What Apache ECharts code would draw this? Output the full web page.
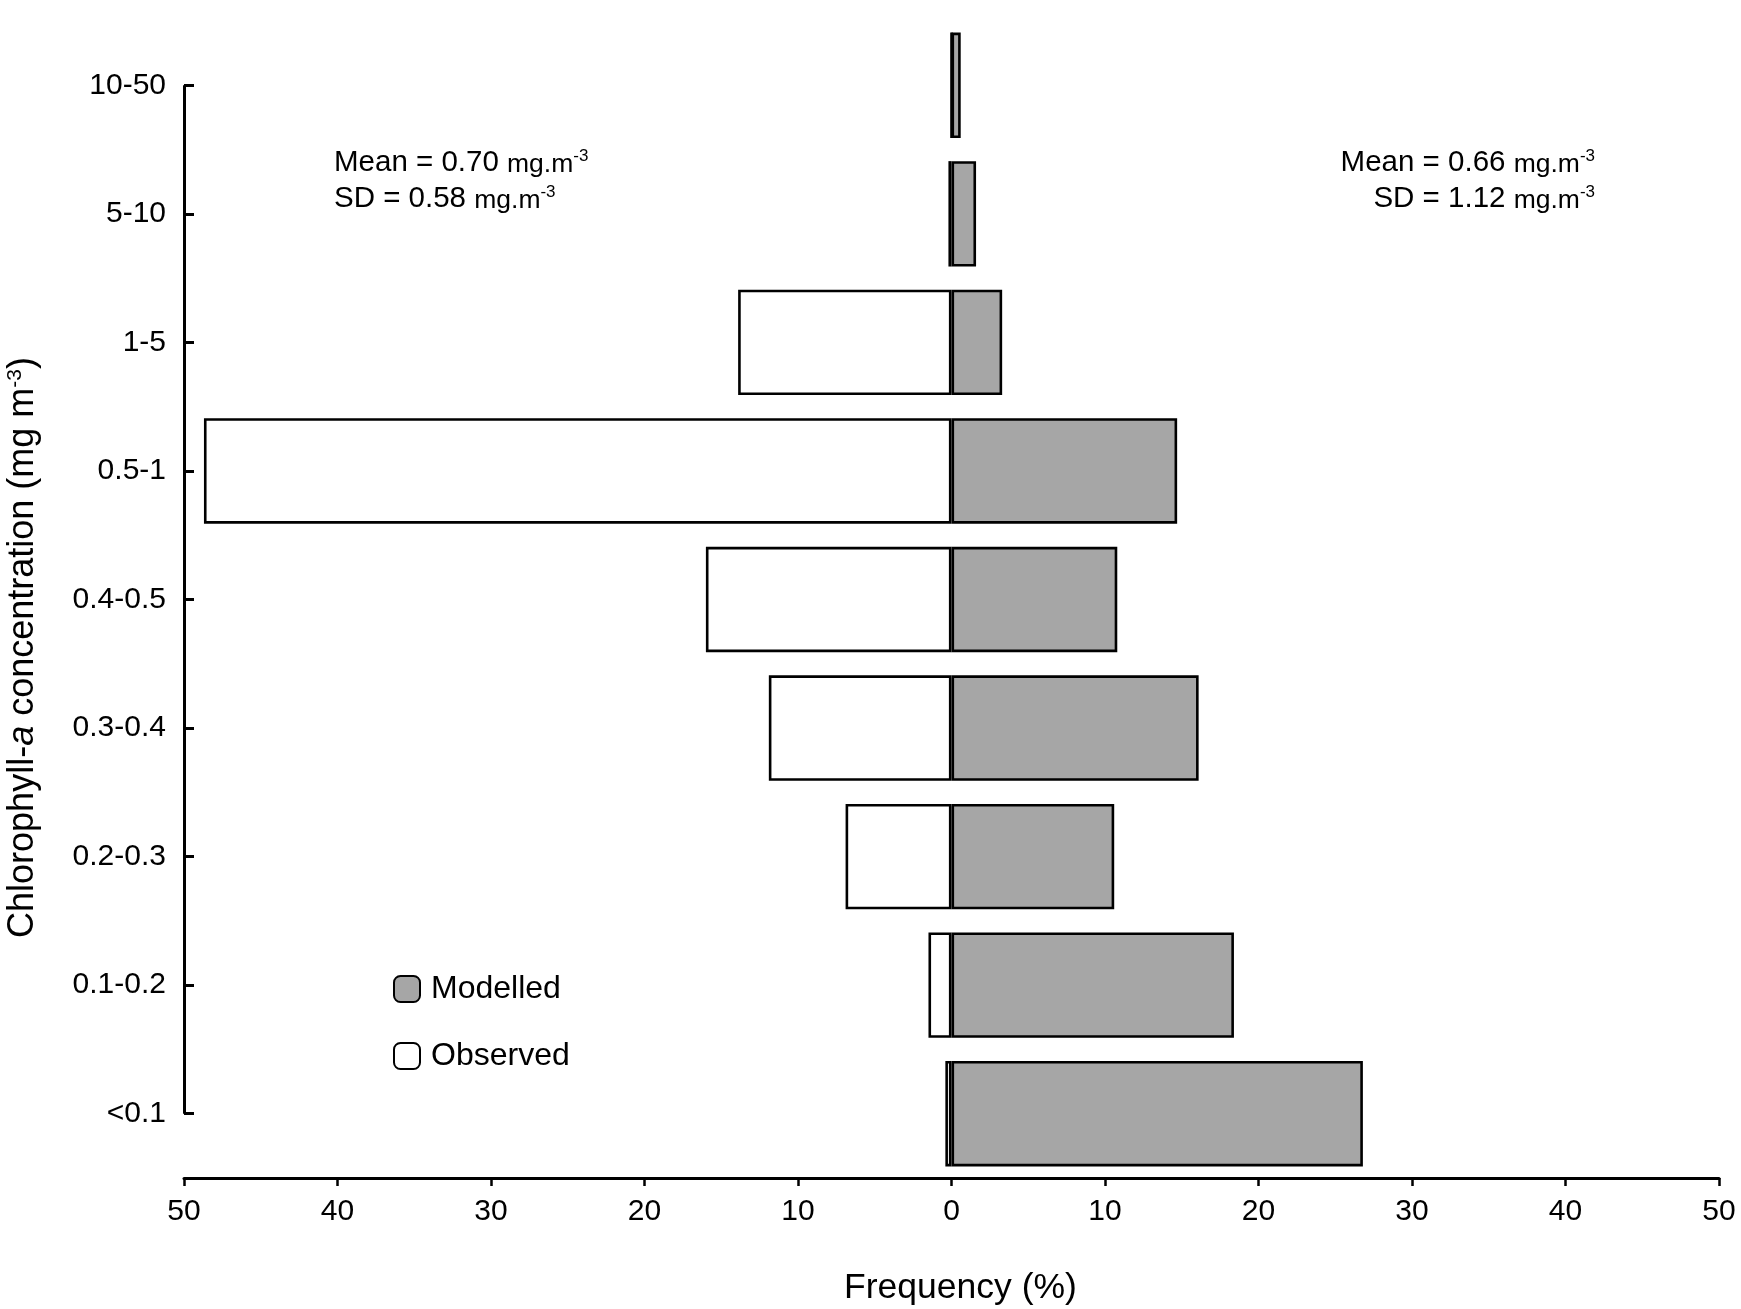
<!DOCTYPE html>
<html>
<head>
<meta charset="utf-8">
<script src="https://cdn.jsdelivr.net/npm/echarts@6/dist/echarts.min.js"></script>
<style>
html,body{margin:0;padding:0;background:#fff;}
#chart{width:1741px;height:1309px;}
</style>
</head>
<body>
<div id="chart"></div>
<script>
// Categories, bottom to top
const categories = ['<0.1', '0.1-0.2', '0.2-0.3', '0.3-0.4', '0.4-0.5', '0.5-1', '1-5', '5-10', '10-50'];
// Frequency (%) per class
const modelled = [26.8, 18.4, 10.6, 16.1, 10.8, 14.7, 3.3, 1.6, 0.6];
const observed = [0.4, 1.5, 6.9, 11.9, 16.0, 48.7, 13.9, 0.2, 0];
const xTicks = [-50, 50, 10]; // min, max, interval
const statsObserved = ['0.70', '0.58'];
const statsModelled = ['0.66', '1.12'];

const FONT = "'Liberation Sans', Arial, sans-serif";
const chart = echarts.init(document.getElementById('chart'), null, {renderer: 'canvas'});

function statRich(label, value) {
  return '{b|' + label + ' = ' + value + ' }{u|mg.m}{s|-3}';
}
const richStat = {
  b: {fontSize: 29.5, fontFamily: FONT, color: '#000', verticalAlign: 'bottom'},
  u: {fontSize: 26.5, fontFamily: FONT, color: '#000', verticalAlign: 'bottom'},
  s: {fontSize: 17, fontFamily: FONT, color: '#000', verticalAlign: 'top'}
};

const option = {
  animation: false,
  backgroundColor: '#fff',
  textStyle: {fontFamily: FONT, color: '#000'},
  grid: {left: 184, right: 22, top: 21, bottom: 131, containLabel: false, outerBoundsMode: 'none'},
  legend: {
    orient: 'vertical',
    left: 388,
    top: 968,
    itemWidth: 26,
    itemHeight: 26,
    itemGap: 35,
    icon: 'roundRect',
    data: ['Modelled', 'Observed'],
    itemStyle: {borderColor: '#000', borderWidth: 2},
    textStyle: {fontSize: 32, fontFamily: FONT, color: '#000', lineHeight: 26, padding: [0, 0, 0, 6]}
  },
  xAxis: {
    type: 'value',
    min: xTicks[0],
    max: xTicks[1],
    interval: xTicks[2],
    name: 'Frequency (%)',
    nameLocation: 'middle',
    nameGap: 92,
    nameTextStyle: {fontSize: 35.5, fontFamily: FONT, color: '#000', padding: [0, 0, 0, 18]},
    axisLine: {show: true, lineStyle: {color: '#000', width: 3}},
    axisTick: {show: true, inside: false, length: 8, lineStyle: {color: '#000', width: 2.5}},
    axisLabel: {fontSize: 30, fontFamily: FONT, color: '#000', margin: 19, formatter: v => String(Math.abs(v))},
    splitLine: {show: false}
  },
  yAxis: {
    type: 'category',
    data: categories,
    boundaryGap: true,
    name: '{n|Chlorophyll-}{i|a}{n| concentration (mg m}{s|-3}{n|)}',
    nameLocation: 'middle',
    nameRotate: 90,
    nameGap: 143,
    nameTextStyle: {
      padding: [0, 96, 0, 0],
      rich: {
        n: {fontSize: 36, fontFamily: FONT, color: '#000', verticalAlign: 'bottom'},
        i: {fontSize: 36, fontFamily: FONT, fontStyle: 'italic', color: '#000', verticalAlign: 'bottom'},
        s: {fontSize: 21, fontFamily: FONT, color: '#000', verticalAlign: 'top'}
      }
    },
    axisLine: {show: true, onZero: false, lineStyle: {color: 'rgba(0,0,0,0)', width: 1}},
    axisTick: {show: true, inside: true, alignWithLabel: true, interval: 0, length: 10, lineStyle: {color: '#000', width: 3}},
    axisLabel: {fontSize: 30, fontFamily: FONT, color: '#000', margin: 18},
    splitLine: {show: false}
  },
  graphic: [
    {type: 'text', left: 334, top: 148, style: {text: statRich('Mean', statsObserved[0]), rich: richStat}},
    {type: 'text', left: 334, top: 184, style: {text: statRich('SD', statsObserved[1]), rich: richStat}},
    {type: 'text', right: 146, top: 148, style: {text: statRich('Mean', statsModelled[0]), rich: richStat, align: 'right'}},
    {type: 'text', right: 146, top: 184, style: {text: statRich('SD', statsModelled[1]), rich: richStat, align: 'right'}}
  ],
  series: [
    {
      name: 'Modelled',
      type: 'bar',
      data: modelled,
      barWidth: '82%',
      barGap: '-100%',
      itemStyle: {color: '#a6a6a6', borderColor: '#000', borderWidth: 2.6},
      emphasis: {disabled: true},
      markLine: {
        silent: true,
        symbol: 'none',
        label: {show: false},
        lineStyle: {color: '#000', width: 3, type: 'solid'},
        data: [[{coord: [xTicks[0], categories[0]]}, {coord: [xTicks[0], categories[categories.length - 1]]}]]
      }
    },
    {
      name: 'Observed',
      type: 'bar',
      data: observed.map(v => -v),
      barWidth: '82%',
      barGap: '-100%',
      itemStyle: {color: '#ffffff', borderColor: '#000', borderWidth: 2.6},
      emphasis: {disabled: true}
    }
  ]
};
chart.setOption(option);
</script>
</body>
</html>
